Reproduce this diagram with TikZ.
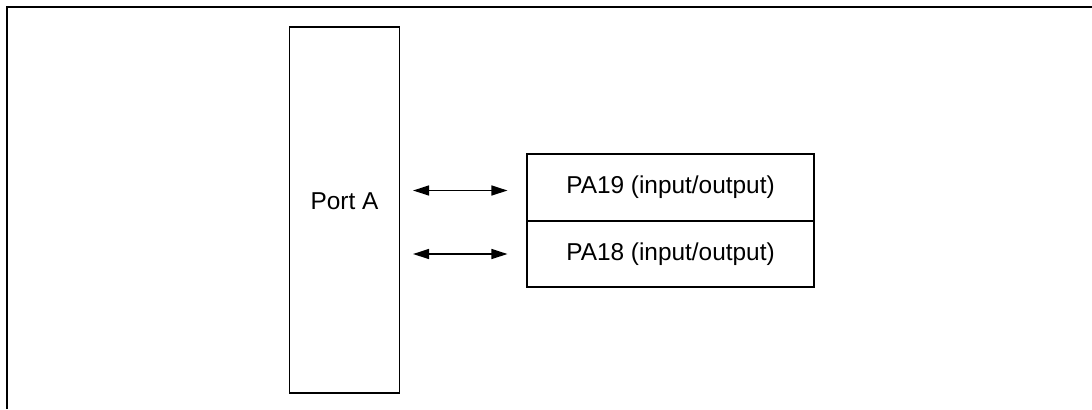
\documentclass[tikz,border=0pt]{standalone}
\usepackage{fontspec}
\setmainfont{Liberation Sans}
\usetikzlibrary{arrows.meta}

\begin{document}
\begin{tikzpicture}[x=0.5pt, y=-0.5pt, font=\fontsize{12.2}{14}\selectfont,
    box/.style={draw, line width=0.55pt, inner sep=0pt},
    link/.style={{Triangle[length=8pt,width=5pt]}-{Triangle[length=8pt,width=5pt]}, line width=0.7pt}]
    \useasboundingbox (0,0) rectangle (1092,409);
    \draw[line width=1pt] (6.5,409) -- (6.5,7) -- (1092,7);

    \node (Port) [box, minimum width=55pt, minimum height=183pt,
        label={[anchor=center, yshift=4.5pt]center:Port A}] at (344.5,210) {};
    \node (PA19) [box, minimum width=143.5pt, minimum height=33.5pt] at (670.5,187.5) {PA19 (input/output)};
    \node (PA18) [box, minimum width=143.5pt, minimum height=33pt] at (670.5,254) {PA18 (input/output)};

    \draw[link, shorten <=6.5pt, shorten >=9.5pt] ([yshift=-1.5pt]Port.east |- PA19) -- ([yshift=-1.5pt]PA19.west);
    \draw[link, shorten <=6.5pt, shorten >=9.5pt] (Port.east |- PA18) -- (PA18.west);
\end{tikzpicture}
\end{document}
